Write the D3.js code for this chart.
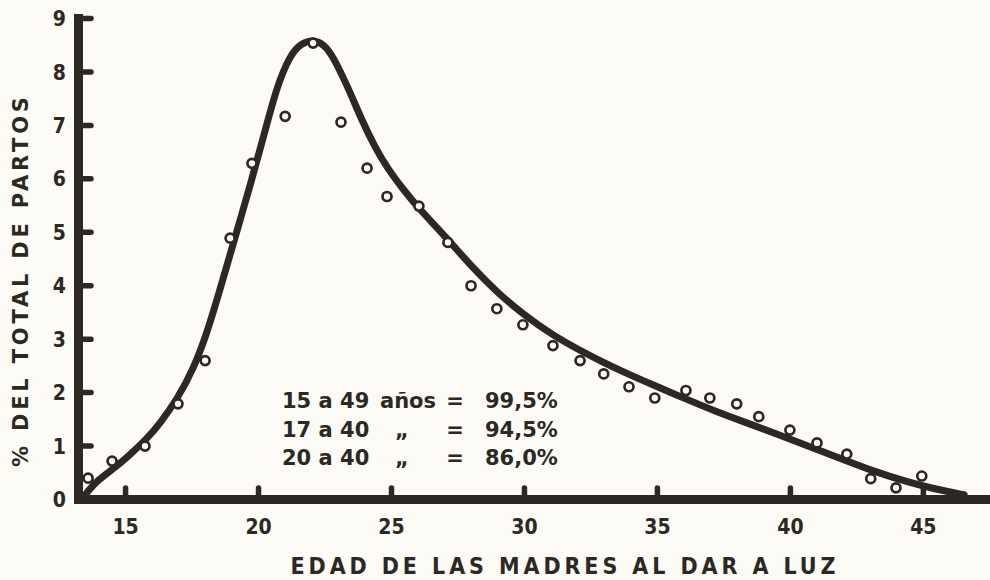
<!DOCTYPE html>
<html>
<head>
<meta charset="utf-8">
<script src="https://cdn.jsdelivr.net/npm/d3@7"></script>
<style>
  html, body { margin: 0; padding: 0; background: #fcfbf6; }
  svg { display: block; }
</style>
</head>
<body>
<svg id="chart" width="990" height="580"></svg>
<script>
// observed points (age of mother, % of all births)
const pointAges = [13.61, 14.51, 15.75, 16.99, 18.01, 18.95, 19.77, 21.02, 22.07, 23.12, 24.10, 24.85,
  26.05, 27.14, 28.01, 28.98, 29.96, 31.09, 32.11, 33.0, 33.95, 34.92, 36.09, 36.99, 38.0, 38.83,
  40.0, 41.02, 42.14, 43.04, 43.99, 44.96];
const pointShares = [0.39, 0.71, 0.99, 1.78, 2.59, 4.88, 6.28, 7.16, 8.53, 7.05, 6.19, 5.66,
  5.48, 4.80, 3.99, 3.56, 3.26, 2.87, 2.59, 2.34, 2.10, 1.89, 2.03, 1.89, 1.78, 1.54,
  1.29, 1.05, 0.84, 0.38, 0.21, 0.43];

// fitted curve, traced
const curveAges = [13.38, 13.8, 14.44, 15.08, 15.83, 16.32, 16.95, 17.56, 18.08, 18.57, 19.14, 19.77,
  20.26, 20.71, 21.2, 21.6, 22.07, 22.5, 22.82, 23.35, 23.91, 24.4, 24.89, 25.45, 26.0, 27.14,
  28.01, 28.98, 29.96, 31.09, 32.11, 33.0, 33.95, 34.92, 36.1, 37.2, 38.4, 39.6, 40.8, 42.0,
  43.2, 44.4, 45.5, 46.55];
const curveShares = [0.0, 0.28, 0.52, 0.78, 1.13, 1.42, 1.86, 2.42, 3.1, 3.92, 4.9, 5.98,
  6.88, 7.72, 8.3, 8.52, 8.6, 8.5, 8.28, 7.74, 7.08, 6.58, 6.17, 5.8, 5.46, 4.86,
  4.36, 3.87, 3.46, 3.06, 2.78, 2.55, 2.33, 2.12, 1.87, 1.64, 1.42, 1.2, 0.97, 0.74,
  0.51, 0.32, 0.18, 0.08];

const xTicks = [15, 20, 25, 30, 35, 40, 45];
const yTicks = [0, 1, 2, 3, 4, 5, 6, 7, 8, 9];

const rangeLabels = ["15 a 49", "17 a 40", "20 a 40"];
const unitLabels = ["años", "\u201E", "\u201E"];
const pctLabels = ["99,5%", "94,5%", "86,0%"];

const xTitle = "EDAD DE LAS MADRES AL DAR A LUZ";
const yTitle = "% DEL TOTAL DE PARTOS";

const INK = "#2c2823";
const svg = d3.select("#chart");

const x = d3.scaleLinear().domain([13.23, 47.6]).range([78, 992]);
const y = d3.scaleLinear().domain([0, 9]).range([499, 18]);

// fitted curve
const line = d3.line()
  .x(d => x(d[0]))
  .y(d => y(d[1]))
  .curve(d3.curveBasis);

svg.append("path")
  .datum(d3.zip(curveAges, curveShares))
  .attr("d", line)
  .attr("fill", "none")
  .attr("stroke", INK)
  .attr("stroke-width", 7)
  .attr("stroke-linecap", "round")
  .attr("stroke-linejoin", "round");

// y axis, ticks point inward
const yAxis = svg.append("g")
  .attr("transform", `translate(${x(13.23)},0)`)
  .call(d3.axisLeft(y).tickValues(yTicks).tickSize(-13).tickSizeOuter(0).tickPadding(12));

// x axis, ticks point upward
const xAxis = svg.append("g")
  .attr("transform", `translate(0,${y(0)})`)
  .call(d3.axisBottom(x).tickValues(xTicks).tickSize(-11).tickSizeOuter(0).tickPadding(19));

[yAxis, xAxis].forEach(g => {
  g.select(".domain")
    .attr("stroke", INK)
    .attr("stroke-width", 9)
    .attr("stroke-linecap", "square");
  g.selectAll(".tick line")
    .attr("stroke", INK)
    .attr("stroke-width", 5.5)
    .attr("stroke-linecap", "round");
  g.selectAll(".tick text")
    .attr("fill", INK)
    .attr("font-family", "'DejaVu Sans Condensed', 'DejaVu Sans', sans-serif")
    .attr("font-weight", "bold")
    .attr("font-size", 21);
});
yAxis.selectAll(".tick text").attr("dy", "0.36em");
xAxis.selectAll(".tick text").attr("dy", "0.75em");

// observed points
svg.append("g")
  .selectAll("circle")
  .data(d3.zip(pointAges, pointShares))
  .join("circle")
  .attr("cx", d => x(d[0]))
  .attr("cy", d => y(d[1]))
  .attr("r", 4.5)
  .attr("fill", "#fcfbf6")
  .attr("stroke", INK)
  .attr("stroke-width", 2.7);

// summary block
const note = svg.append("g")
  .attr("fill", INK)
  .attr("font-family", "'DejaVu Sans', sans-serif")
  .attr("font-weight", "bold")
  .attr("font-size", 21);

rangeLabels.forEach((t, i) => {
  const row = note.append("g").attr("transform", `translate(0,${408 + i * 28.5})`);
  row.append("text").attr("x", 282).text(t);
  row.append("text").attr("x", i === 0 ? 380 : 395).text(unitLabels[i]);
  row.append("text").attr("x", 455).attr("text-anchor", "middle").text("=");
  row.append("text").attr("x", 485).text(pctLabels[i]);
});

// axis titles
svg.append("text")
  .attr("x", 563)
  .attr("y", 574)
  .attr("text-anchor", "middle")
  .attr("textLength", 545)
  .attr("lengthAdjust", "spacing")
  .attr("fill", INK)
  .attr("font-family", "'DejaVu Sans Condensed', 'DejaVu Sans', sans-serif")
  .attr("font-weight", "bold")
  .attr("font-size", 23)
  .text(xTitle);

svg.append("text")
  .attr("transform", "translate(28,282) rotate(-90)")
  .attr("text-anchor", "middle")
  .attr("textLength", 370)
  .attr("lengthAdjust", "spacing")
  .attr("fill", INK)
  .attr("font-family", "'DejaVu Sans', sans-serif")
  .attr("font-weight", "bold")
  .attr("font-size", 21)
  .text(yTitle);
</script>
</body>
</html>
